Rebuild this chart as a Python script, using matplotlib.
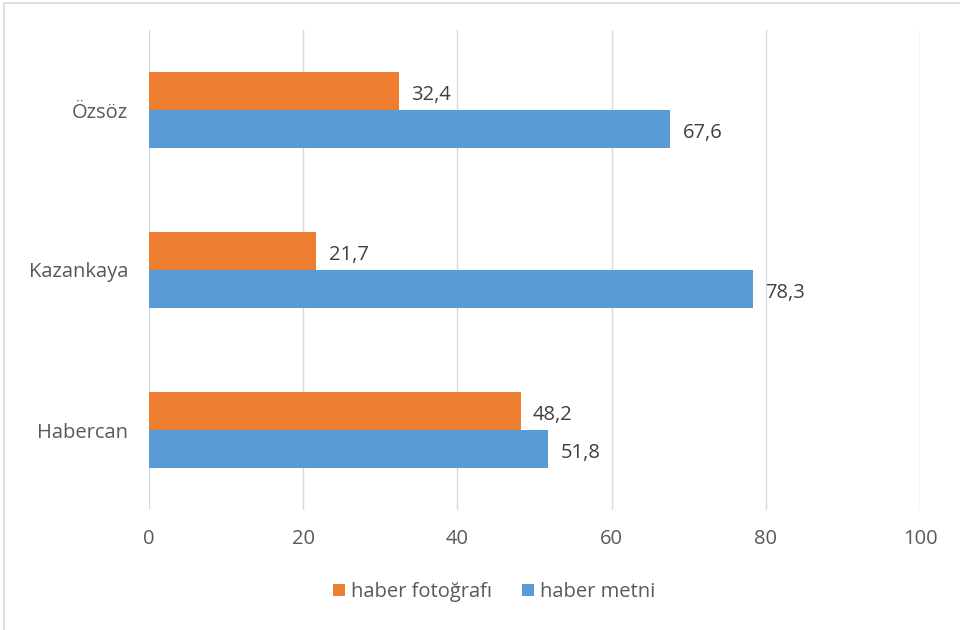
import matplotlib.pyplot as plt
import numpy as np
from matplotlib.patches import Rectangle

plt.rcParams['font.family'] = ['Open Sans', 'DejaVu Sans']

# veriler
categories = ['Habercan', 'Kazankaya', 'Özsöz']
fotograf = [48.2, 21.7, 32.4]
metin = [51.8, 78.3, 67.6]
series_names = ['haber fotoğrafı', 'haber metni']
xticks = [0, 20, 40, 60, 80, 100]

orange = '#ED7D31'
blue = '#5B9BD5'
gray = '#595959'

fig = plt.figure(figsize=(9.6, 6.3), dpi=100)
ax = fig.add_axes([149 / 960, 1 - 510 / 630, (920 - 149) / 960, 480 / 630])

y = np.arange(len(categories))
h = 0.2375
b1 = ax.barh(y + h / 2, fotograf, height=h, color=orange, label=series_names[0], zorder=3)
b2 = ax.barh(y - h / 2, metin, height=h, color=blue, label=series_names[1], zorder=3)

# değer etiketleri
for bars, vals in ((b1, fotograf), (b2, metin)):
    for bar, v in zip(bars, vals):
        ax.annotate(f'{v:.1f}'.replace('.', ','),
                    (bar.get_width(), bar.get_y() + bar.get_height() / 2),
                    xytext=(9, -3), textcoords='offset points',
                    va='center', ha='left', fontsize=14.5, color='#404040')

ax.set_xlim(0, 100)
ax.set_ylim(-0.5, 2.5)
ax.set_xticks(xticks)
ax.set_yticks(y)
ax.set_yticklabels(categories)
ax.tick_params(axis='both', length=0, labelsize=14.5, labelcolor=gray)
ax.tick_params(axis='x', pad=14)
ax.tick_params(axis='y', pad=15)
ax.grid(axis='x', color='#D9D9D9', linewidth=1, zorder=0)
for s in ax.spines.values():
    s.set_visible(False)

leg = fig.legend(handles=[b1, b2], loc='center', bbox_to_anchor=(494 / 960, 1 - 592 / 630),
                 ncol=2, frameon=False, fontsize=14.5, handlelength=0.6, handleheight=0.6,
                 handletextpad=0.3, columnspacing=1.5)
for t in leg.get_texts():
    t.set_color(gray)

# çerçeve
fig.patches.append(Rectangle((4 / 960, -0.01), 1.0, 1 - 3 / 630 + 0.01, transform=fig.transFigure,
                             fill=False, edgecolor='#D9D9D9', linewidth=1.2))

fig.savefig('out.png', dpi=100)
